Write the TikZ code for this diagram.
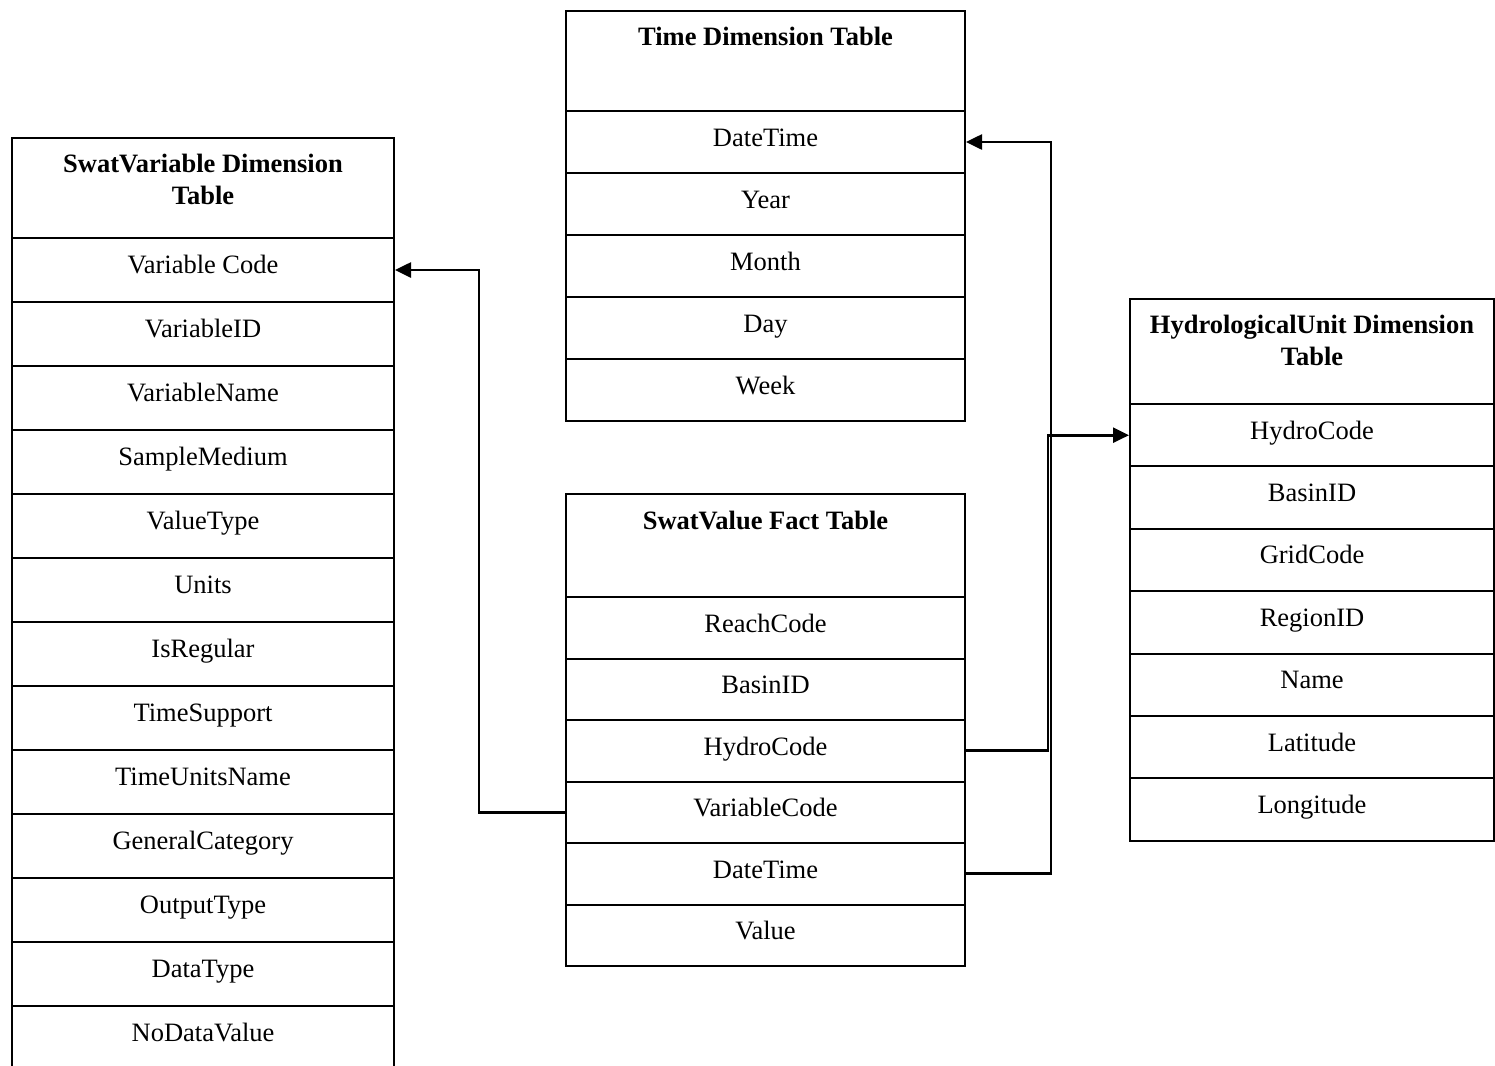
\documentclass[tikz,border=0pt]{standalone}
\usepackage{fontspec}
\setmainfont{Liberation Serif}
\usetikzlibrary{arrows.meta}

\begin{document}
\begin{tikzpicture}[x=0.5pt, y=-0.5pt, >={Triangle[length=8pt,width=7.5pt]},
  every node/.style={font=\fontsize{13.25}{16}\selectfont},
  head/.style={draw, line width=1pt, anchor=north, inner sep=0pt},
  title/.style={anchor=north, align=center, inner sep=0pt,
    font=\fontsize{13.25}{16}\selectfont\bfseries},
  field/.style={draw, line width=1pt, anchor=north, inner ysep=0pt, text height=17.5pt},
  link/.style={line width=1.3pt, ->}]

\useasboundingbox (0,0) rectangle (1495,1066);

% SwatVariable dimension table
\node[head, minimum width=191pt, minimum height=50pt] (var-head) at (203,137) {};
\node[title] (var-title) at ([yshift=-8.5pt]var-head.north) {SwatVariable Dimension\\Table};
\foreach \f [count=\i] in {Variable Code,VariableID,VariableName,SampleMedium,ValueType,Units,IsRegular,TimeSupport,TimeUnitsName,GeneralCategory,OutputType,DataType,NoDataValue}
  \node[field, minimum width=191pt, text depth=14.5pt] (var-\i) at (203,237+64*\i-64) {\f};

% Time dimension table
\node[head, minimum width=199.5pt, minimum height=50pt] (time-head) at (765.5,10) {};
\node[title] (time-title) at ([yshift=-8.5pt]time-head.north) {Time Dimension Table};
\foreach \f [count=\i] in {DateTime,Year,Month,Day,Week}
  \node[field, minimum width=199.5pt, text depth=13.5pt] (time-\i) at (765.5,110+62*\i-62) {\f};

% SwatValue fact table
\node[head, minimum width=199.5pt, minimum height=51.5pt] (fact-head) at (765.5,493) {};
\node[title] (fact-title) at ([yshift=-9pt]fact-head.north) {SwatValue Fact Table};
\foreach \f [count=\i] in {ReachCode,BasinID,HydroCode,VariableCode,DateTime,Value}
  \node[field, minimum width=199.5pt, text depth=13.25pt] (fact-\i) at (765.5,596+61.5*\i-61.5) {\f};

% HydrologicalUnit dimension table
\node[head, minimum width=182pt, minimum height=52.5pt] (hydro-head) at (1312,298) {};
\node[title] (hydro-title) at ([yshift=-8.5pt]hydro-head.north) {HydrologicalUnit Dimension\\Table};
\foreach \f [count=\i] in {HydroCode,BasinID,GridCode,RegionID,Name,Latitude,Longitude}
  \node[field, minimum width=182pt, text depth=13.7pt] (hydro-\i) at (1312,403+62.4*\i-62.4) {\f};

% keys
\draw[link] (fact-4.west) -- ++(-86,0) |- (var-1.east);
\draw[link] (fact-3.east) -- ++(82,0) |- (hydro-1.west);
\draw[link] (fact-5.east) -- ++(85,0) |- (time-1.east);

\end{tikzpicture}
\end{document}
